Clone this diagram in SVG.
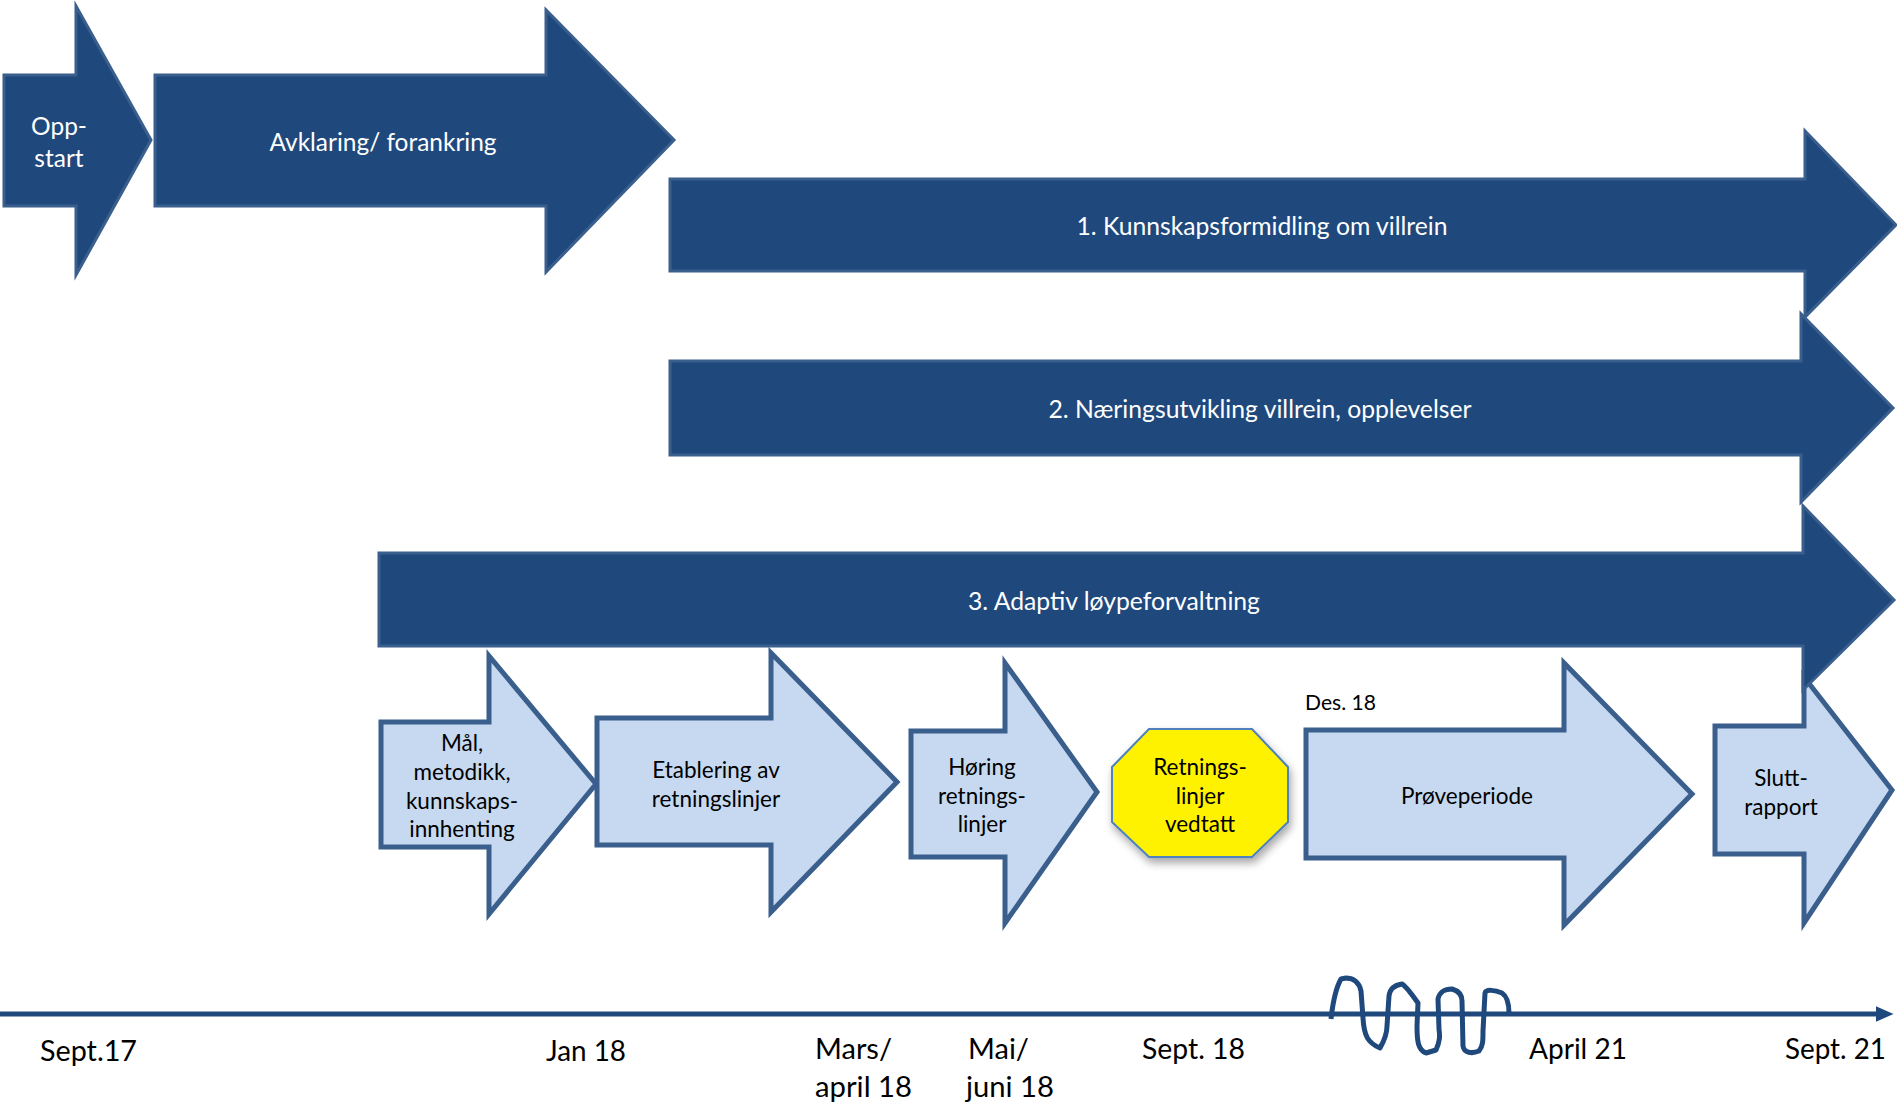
<svg xmlns="http://www.w3.org/2000/svg" width="1897" height="1102" viewBox="0 0 1897 1102">
<style>
.dark{fill:#1F497D;stroke:#3A5F8D;stroke-width:3;stroke-linejoin:miter}
.light{fill:#C6D9F1;stroke:#3A5F8D;stroke-width:5;stroke-linejoin:miter}
.wt{font-family:Lato,'Liberation Sans',sans-serif;font-size:24.5px;fill:#FFFFFF;text-anchor:middle}
.bt{font-family:Lato,'Liberation Sans',sans-serif;font-size:22.5px;fill:#000000;text-anchor:middle}
.lt{font-family:Lato,'Liberation Sans',sans-serif;font-size:29px;fill:#000000}
</style>
<defs>
<filter id="sh" x="-20%" y="-20%" width="140%" height="150%">
<feDropShadow dx="2" dy="5" stdDeviation="4" flood-color="#000" flood-opacity="0.35"/>
</filter>
<marker id="ah" markerWidth="4" markerHeight="4" refX="0.5" refY="2" orient="auto" markerUnits="strokeWidth">
<path d="M0,0.4 L3.6,2 L0,3.6 Z" fill="#1F497D"/>
</marker>
</defs>
<rect width="1897" height="1102" fill="#FFFFFF"/>

<g id="light-row">
<g id="maal">
<polygon class="light" points="381,722 489,722 489,656 596,784 489,914 489,847 381,847"/>
<text class="bt" x="462" y="751">Mål,</text>
<text class="bt" x="462" y="780">metodikk,</text>
<text class="bt" x="462" y="809">kunnskaps-</text>
<text class="bt" x="462" y="837">innhenting</text>
</g>
<g id="etablering">
<polygon class="light" points="597,718 771,718 771,653 897,782 771,912 771,845 597,845"/>
<text class="bt" x="716" y="778">Etablering av</text>
<text class="bt" x="716" y="807">retningslinjer</text>
</g>
<g id="horing">
<polygon class="light" points="911,731 1005,731 1005,663 1097,792 1005,923 1005,857 911,857"/>
<text class="bt" x="982" y="775">Høring</text>
<text class="bt" x="982" y="804">retnings-</text>
<text class="bt" x="982" y="832">linjer</text>
</g>
<g id="vedtatt">
<polygon points="1149,729 1252,729 1288,767 1288,822 1252,857 1149,857 1112,822 1112,767" fill="#FFF200" stroke="#4F81BD" stroke-width="2" filter="url(#sh)"/>
<text class="bt" x="1200" y="775">Retnings-</text>
<text class="bt" x="1200" y="804">linjer</text>
<text class="bt" x="1200" y="832">vedtatt</text>
</g>
<g id="proveperiode">
<polygon class="light" points="1306,730 1564,730 1564,663 1692,794 1564,925 1564,858 1306,858"/>
<text class="bt" x="1467" y="804">Prøveperiode</text>
</g>
<g id="sluttrapport">
<polygon class="light" points="1715,726 1804,726 1804,677 1892,790 1804,923 1804,854 1715,854"/>
<text class="bt" x="1781" y="786">Slutt-</text>
<text class="bt" x="1781" y="815">rapport</text>
</g>
<text id="des18" class="bt" x="1305" y="710" style="text-anchor:start;font-size:21px" textLength="71" lengthAdjust="spacingAndGlyphs">Des. 18</text>
</g>

<g id="dark-row">
<g id="oppstart">
<polygon class="dark" points="4,75 76,75 76,6 151,140 76,275 76,206 4,206"/>
<text class="wt" x="59" y="135">Opp-</text>
<text class="wt" x="59" y="167">start</text>
</g>
<g id="avklaring">
<polygon class="dark" points="155,75 546,75 546,10 674,140 546,272 546,206 155,206"/>
<text class="wt" x="383" y="151" textLength="227" lengthAdjust="spacingAndGlyphs">Avklaring/ forankring</text>
</g>
<g id="kunnskap">
<polygon class="dark" points="670,179 1805,179 1805,131 1896,225 1805,317 1805,271 670,271"/>
<text class="wt" x="1262" y="235" textLength="371" lengthAdjust="spacingAndGlyphs">1. Kunnskapsformidling om villrein</text>
</g>
<g id="naering">
<polygon class="dark" points="670,361 1801,361 1801,314 1893,408 1801,502 1801,455 670,455"/>
<text class="wt" x="1260" y="418" textLength="423" lengthAdjust="spacingAndGlyphs">2. Næringsutvikling villrein, opplevelser</text>
</g>
<g id="adaptiv">
<polygon class="dark" points="379,553 1803,553 1803,506 1894,600 1803,690 1803,646 379,646"/>
<text class="wt" x="1114" y="610" textLength="292" lengthAdjust="spacingAndGlyphs">3. Adaptiv løypeforvaltning</text>
</g>
</g>

<g id="connectors">
<line x1="0" y1="1014" x2="1878" y2="1014" stroke="#1F497D" stroke-width="5" marker-end="url(#ah)"/>
<path d="M1331,1019 C1333,1001 1337,986 1341,979 L1346,978 C1352,978 1359,981 1361,991 L1363,1018 C1364,1036 1368,1043 1380,1048 C1384,1041 1387,1033 1387,1026 L1389,996 C1390,988 1395,985 1402,984 C1406,986 1413,996 1418,1003 L1417,1026 C1417,1041 1418,1050 1426,1053 L1436,1050 C1440,1041 1440,1036 1439,1029 L1438,999 C1440,991 1445,989 1452,989 C1459,991 1462,995 1462,1001 L1463,1046 C1464,1053 1472,1054 1479,1051 C1483,1046 1483,1041 1483,1031 L1485,993 C1486,989 1495,990 1502,993 C1508,997 1509,1006 1509,1013" fill="none" stroke="#1F497D" stroke-width="5" stroke-linejoin="round"/>
</g>

<g id="labels">
<text class="lt" x="40" y="1061" textLength="97" lengthAdjust="spacingAndGlyphs">Sept.17</text>
<text class="lt" x="546" y="1061" textLength="80" lengthAdjust="spacingAndGlyphs">Jan 18</text>
<text class="lt" x="815" y="1059">Mars/</text>
<text class="lt" x="815" y="1097" textLength="97" lengthAdjust="spacingAndGlyphs">april 18</text>
<text class="lt" x="968" y="1059">Mai/</text>
<text class="lt" x="966" y="1097" textLength="88" lengthAdjust="spacingAndGlyphs">juni 18</text>
<text class="lt" x="1142" y="1059" textLength="103" lengthAdjust="spacingAndGlyphs">Sept. 18</text>
<text class="lt" x="1529" y="1059" textLength="98" lengthAdjust="spacingAndGlyphs">April 21</text>
<text class="lt" x="1785" y="1059" textLength="101" lengthAdjust="spacingAndGlyphs">Sept. 21</text>
</g>
</svg>
